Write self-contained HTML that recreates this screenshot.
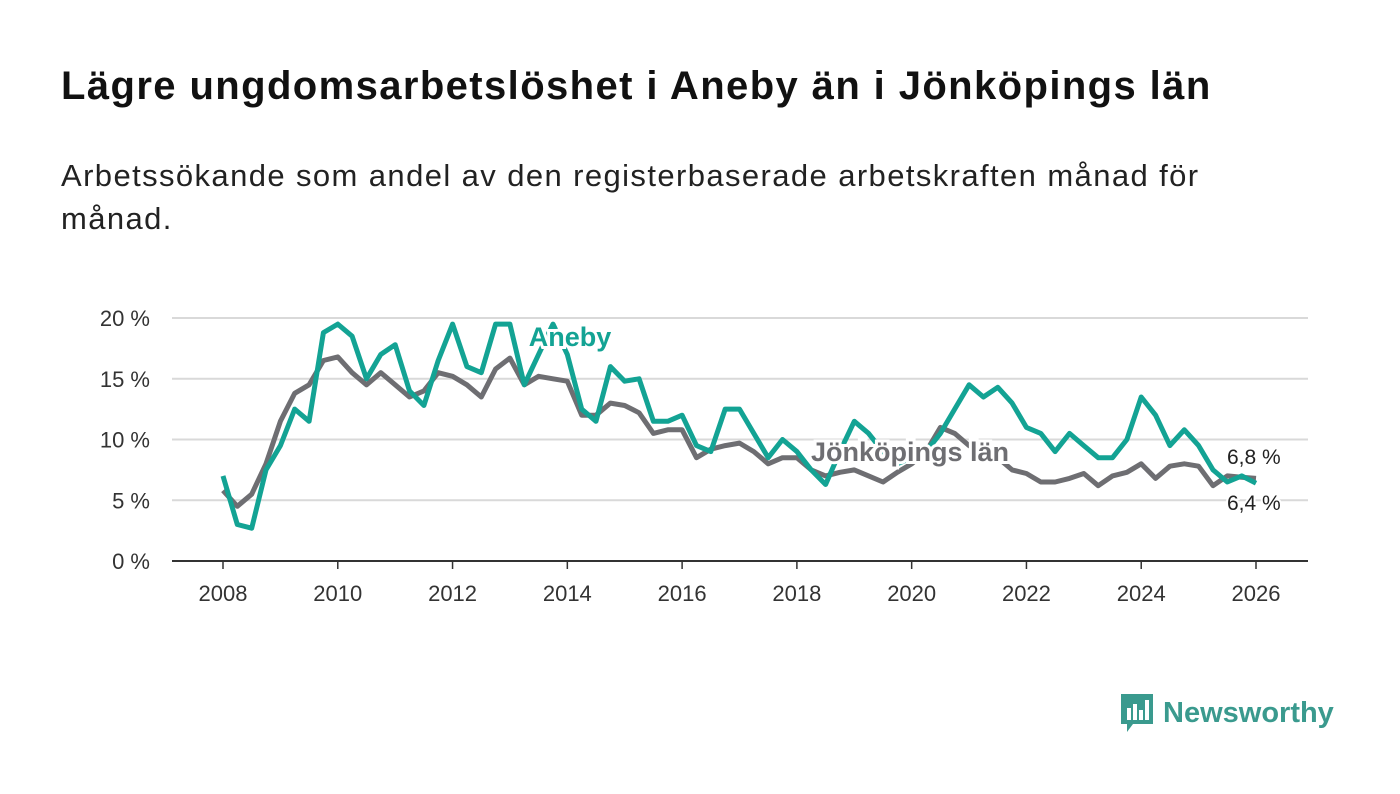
<!DOCTYPE html>
<html><head><meta charset="utf-8">
<style>
body{margin:0;background:#fff;font-family:"Liberation Sans","DejaVu Sans",sans-serif;}
#wrap{position:relative;width:1400px;height:794px;overflow:hidden;}
h1{position:absolute;left:61px;top:64px;margin:0;font-size:40px;font-weight:bold;color:#111;letter-spacing:1.4px}
.sub{position:absolute;left:61px;top:154px;margin:0;font-size:31px;color:#222;line-height:43px;width:1300px;letter-spacing:1.4px}
</style></head><body>
<div id="wrap">
<h1>Lägre ungdomsarbetslöshet i Aneby än i Jönköpings län</h1>
<p class="sub">Arbetssökande som andel av den registerbaserade arbetskraften månad för<br>månad.</p>
<svg id="chart" width="1400" height="794" style="position:absolute;left:0;top:0"></svg>
<div style="position:absolute;left:1119px;top:692px;display:flex;align-items:center">
<svg width="36" height="42"><path d="M2 2h32v30H14l-6 8v-8H2z" fill="#3a9a8e"/><rect x="8" y="16" width="4" height="12" fill="#fff"/><rect x="14" y="12" width="4" height="16" fill="#fff"/><rect x="20" y="18" width="4" height="10" fill="#fff"/><rect x="26" y="8" width="4" height="20" fill="#fff"/></svg>
<span style="font-size:29px;font-weight:bold;color:#3a9a8e;margin-left:8px">Newsworthy</span>
</div>
</div>
<script>
const yearsStart = 2008;
const anebyValues = [7.0,3.0,2.7,7.5,9.5,12.5,11.5,18.8,19.5,18.5,15,17.0,17.8,14,12.8,16.5,19.5,16,15.5,19.5,19.5,14.5,17,19.5,17,12.5,11.5,16,14.8,15,11.5,11.5,12,9.5,9,12.5,12.5,10.5,8.5,10,9,7.5,6.3,9,11.5,10.5,9,8,8.5,9,10.5,12.5,14.5,13.5,14.3,13,11,10.5,9,10.5,9.5,8.5,8.5,10,13.5,12,9.5,10.8,9.5,7.5,6.5,7,6.4];
const lanValues = [5.8,4.5,5.5,8,11.5,13.8,14.5,16.5,16.8,15.5,14.5,15.5,14.5,13.5,14,15.5,15.2,14.5,13.5,15.8,16.7,14.5,15.2,15.0,14.8,12,12,13,12.8,12.2,10.5,10.8,10.8,8.5,9.2,9.5,9.7,9.0,8.0,8.5,8.5,7.5,7.0,7.3,7.5,7.0,6.5,7.3,8,9,11,10.5,9.5,8.8,8.5,7.5,7.2,6.5,6.5,6.8,7.2,6.2,7.0,7.3,8.0,6.8,7.8,8.0,7.8,6.2,7.0,6.9,6.8];
const yTicks = [0,5,10,15,20];
const xTicks = [2008,2010,2012,2014,2016,2018,2020,2022,2024,2026];
const stepYears = 0.25;

const NS="http://www.w3.org/2000/svg";
const svg=document.getElementById('chart');
const xS=t=>223+(t-2008)*(1256-223)/18;
const yS=v=>561-v*(561-318)/20;
function mk(tag,attrs){const e=document.createElementNS(NS,tag);for(const k in attrs)e.setAttribute(k,attrs[k]);svg.appendChild(e);return e;}
yTicks.forEach(v=>{
  const g=mk('line',{x1:172,x2:1308,y1:yS(v),y2:yS(v),stroke:v===0?'#333':'#d9d9d9','stroke-width':2});
  
  
  const t=mk('text',{x:150,y:yS(v)+8,'text-anchor':'end','font-size':22,fill:'#333','font-family':'Liberation Sans, sans-serif'});
  t.textContent=v+' %';
  
  
});
xTicks.forEach(yr=>{
  const l=mk('line',{x1:xS(yr),x2:xS(yr),y1:561,y2:569,stroke:'#333','stroke-width':1.5});
  
  
  const t=mk('text',{x:xS(yr),y:601,'text-anchor':'middle','font-size':22,fill:'#333','font-family':'Liberation Sans, sans-serif'});
  t.textContent=yr;
  
  
});
function pts(arr){return arr.map((v,i)=>xS(yearsStart+i*stepYears).toFixed(1)+','+yS(v).toFixed(1)).join(' ');}
const p1=mk('polyline',{points:pts(lanValues),fill:'none',stroke:'#6e6e72','stroke-width':5,'stroke-linejoin':'round'});


const p2=mk('polyline',{points:pts(anebyValues),fill:'none',stroke:'#13a394','stroke-width':5,'stroke-linejoin':'round'});


function lab(x,y,txt,col,name,bold,anchor){
  const t=mk('text',{x:x,y:y,'text-anchor':anchor||'middle','font-size':bold?27:21,'font-weight':bold?'bold':'normal',fill:col,stroke:'#fff','stroke-width':bold?6:4,'paint-order':'stroke','font-family':'Liberation Sans, sans-serif'});
  t.textContent=txt;
  
  
}
lab(570,346,'Aneby','#13a394','aneby-label',true);
lab(910,461,'Jönköpings län','#6e6e72','jonkoping-label',true);
lab(1227,464,'6,8 %','#222','lan-end-value',false,'start');
lab(1227,510,'6,4 %','#222','aneby-end-value',false,'start');
</script>
</body></html>
